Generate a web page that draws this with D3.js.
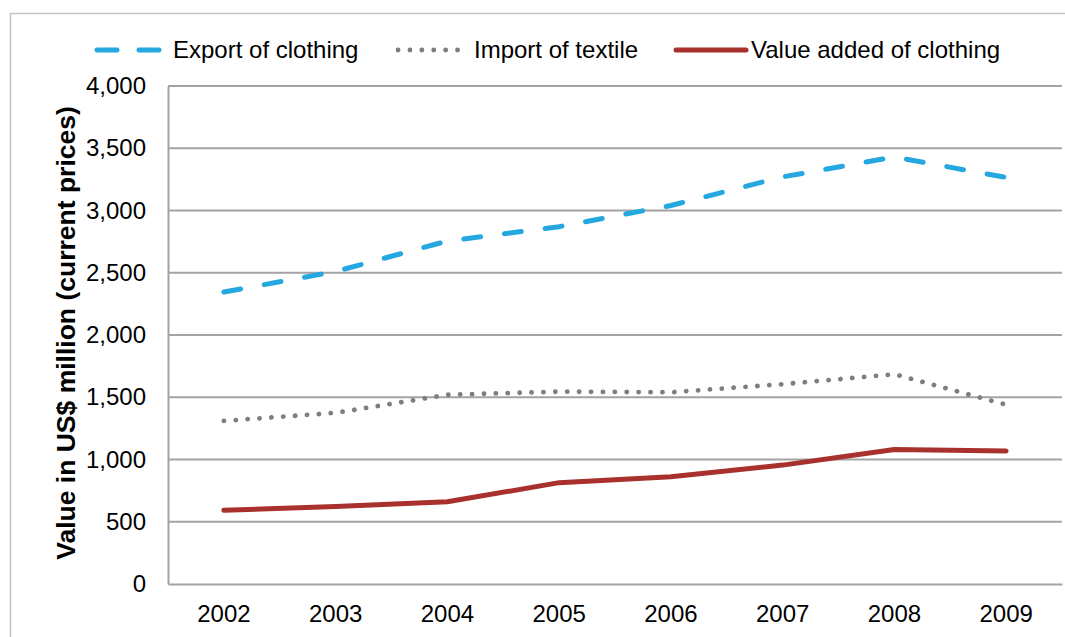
<!DOCTYPE html>
<html>
<head>
<meta charset="utf-8">
<script src="https://cdn.jsdelivr.net/npm/d3@7"></script>
<style>
  body { margin: 0; background: #fff; }
  text { font-family: "Liberation Sans", Arial, sans-serif; fill: #000; }
</style>
</head>
<body>
<div id="chart"></div>
<script>
// data
var years = ["2002", "2003", "2004", "2005", "2006", "2007", "2008", "2009"];
var exportClothing = [2345, 2510, 2755, 2870, 3040, 3270, 3430, 3265];
var importTextile = [1310, 1375, 1520, 1545, 1540, 1605, 1685, 1440];
var valueAdded = [592, 622, 660, 814, 862, 955, 1080, 1068];
var yTicks = [0, 500, 1000, 1500, 2000, 2500, 3000, 3500, 4000];

var series = [
  {name: "Export of clothing", values: exportClothing, color: "#25A8E0", width: 5, dash: "17,24", legendDash: "20,22", lx: 95, lw: 64, tx: 173},
  {name: "Import of textile", values: importTextile, color: "#7d7e81", width: 4.8, dash: "0.1,11.8", legendDash: "0.1,11.8", lx: 396, lw: 62, tx: 474},
  {name: "Value added of clothing", values: valueAdded, color: "#A8302D", width: 5, dash: null, legendDash: null, lx: 674, lw: 72, tx: 751}
];

var W = 1065, H = 637;
var margin = {top: 86, right: 3, bottom: 53, left: 168};
var width = W - margin.left - margin.right;
var height = H - margin.top - margin.bottom;

var svg = d3.select("#chart").append("svg")
    .attr("width", W)
    .attr("height", H);

// outer frame
svg.append("rect")
    .attr("x", 10.5).attr("y", 13.5)
    .attr("width", W + 10).attr("height", H + 10)
    .attr("fill", "none")
    .attr("stroke", "#c4c4c4")
    .attr("stroke-width", 1.5);

var g = svg.append("g")
    .attr("transform", "translate(" + margin.left + "," + margin.top + ")");

var x = d3.scaleBand().domain(years).range([0, width]);
var y = d3.scaleLinear().domain([0, 4000]).range([height, 0]);

// gridlines
g.selectAll(".grid")
  .data(yTicks.filter(function(d) { return d > 0; }))
  .enter().append("line")
    .attr("x1", 0).attr("x2", width)
    .attr("y1", function(d) { return y(d); })
    .attr("y2", function(d) { return y(d); })
    .attr("stroke", "#a3a3a6")
    .attr("stroke-width", 2);

// y axis
var yAxis = g.append("g")
    .call(d3.axisLeft(y).tickValues(yTicks).tickFormat(d3.format(",")).tickSize(0).tickPadding(22));
yAxis.select(".domain").attr("stroke", "#a3a3a6").attr("stroke-width", 2);
yAxis.selectAll("text").attr("font-size", "24px").attr("fill", "#000")
    .style("font-family", "'Liberation Sans', Arial, sans-serif");

// x axis
var xAxis = g.append("g")
    .attr("transform", "translate(0," + height + ")")
    .call(d3.axisBottom(x).tickSize(0).tickPadding(21));
xAxis.select(".domain").attr("stroke", "#a3a3a6").attr("stroke-width", 2);
xAxis.selectAll("text").attr("font-size", "24px").attr("fill", "#000")
    .style("font-family", "'Liberation Sans', Arial, sans-serif");

// y title
svg.append("text")
    .attr("transform", "translate(75," + (margin.top + height / 2 - 2) + ") rotate(-90)")
    .attr("text-anchor", "middle")
    .attr("font-size", "26.5px")
    .attr("font-weight", "bold")
    .text("Value in US$ million (current prices)");

// lines
var line = d3.line()
    .x(function(d, i) { return x(years[i]) + x.bandwidth() / 2; })
    .y(function(d) { return y(d); });

series.forEach(function(s) {
  g.append("path")
    .datum(s.values)
    .attr("d", line)
    .attr("fill", "none")
    .attr("stroke", s.color)
    .attr("stroke-width", s.width)
    .attr("stroke-linecap", "round")
    .attr("stroke-linejoin", "round")
    .attr("stroke-dasharray", s.dash);
});

// legend
var legend = svg.append("g");
series.forEach(function(s) {
  legend.append("line")
    .attr("x1", s.lx + 2).attr("x2", s.lx + s.lw)
    .attr("y1", 50).attr("y2", 50)
    .attr("stroke", s.color)
    .attr("stroke-width", s.width)
    .attr("stroke-linecap", "round")
    .attr("stroke-dasharray", s.legendDash);
  legend.append("text")
    .attr("x", s.tx).attr("y", 50)
    .attr("dy", "0.35em")
    .attr("font-size", "24px")
    .text(s.name);
});
</script>
</body>
</html>
